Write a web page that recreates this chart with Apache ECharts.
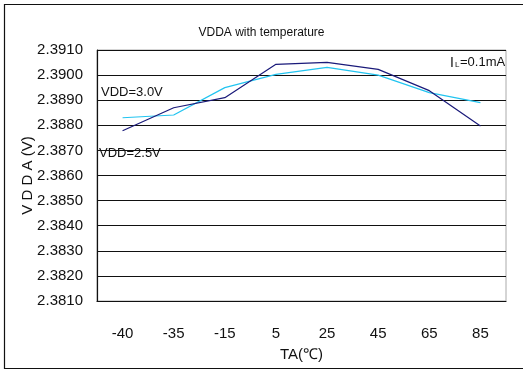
<!DOCTYPE html>
<html>
<head>
<meta charset="utf-8">
<script src="https://cdn.jsdelivr.net/npm/echarts@6/dist/echarts.min.js"></script>
<style>
  html, body { margin: 0; padding: 0; background: #fff; }
  #chart { width: 523px; height: 371px; }
</style>
</head>
<body>
<div id="chart"></div>
<script>
// Supply voltage VDDA versus ambient temperature, two supply conditions
const temperatures = ['-40', '-35', '-15', '5', '25', '45', '65', '85'];
const vdd25 = [2.38778, 2.38870, 2.38910, 2.39043, 2.39051, 2.39023, 2.38938, 2.38797];
const vdd30 = [2.38830, 2.38841, 2.38950, 2.39003, 2.39031, 2.39000, 2.38930, 2.38890];
const yTicks = ['2.3810', '2.3820', '2.3830', '2.3840', '2.3850', '2.3860', '2.3870', '2.3880', '2.3890', '2.3900', '2.3910'];

const FONT = '"Liberation Sans", Arial, sans-serif';
const chart = echarts.init(document.getElementById('chart'), null, { renderer: 'canvas' });

const yMin = Number(yTicks[0]);
const yMax = Number(yTicks[yTicks.length - 1]);

chart.setOption({
  animation: false,
  backgroundColor: '#fff',
  title: {
    text: 'VDDA with temperature',
    left: 'center',
    top: 22,
    textStyle: { fontFamily: FONT, fontSize: 12, fontWeight: 'normal', color: '#111' }
  },
  grid: { left: 97, top: 50, width: 409, height: 251, show: true, borderColor: '#aaa', borderWidth: 1 },
  xAxis: {
    type: 'category',
    data: temperatures,
    boundaryGap: true,
    name: 'TA(℃)',
    nameLocation: 'middle',
    nameGap: 46,
    nameMoveOverlap: false,
    nameTextStyle: { fontFamily: FONT, fontSize: 15, color: '#111' },
    axisLine: { lineStyle: { color: '#111', width: 1.2 } },
    axisTick: { inside: true, length: 5, lineStyle: { color: '#111' } },
    axisLabel: { fontFamily: FONT, fontSize: 15, color: '#111', margin: 25 },
    splitLine: { show: false }
  },
  yAxis: {
    type: 'value',
    min: yMin,
    max: yMax,
    interval: 0.001,
    name: 'V D D A (V)',
    nameLocation: 'middle',
    nameRotate: 90,
    nameGap: 62,
    nameMoveOverlap: false,
    nameTextStyle: { fontFamily: FONT, fontSize: 15, color: '#111' },
    axisLine: { show: true, lineStyle: { color: '#111', width: 1.2 } },
    axisTick: { show: false },
    axisLabel: {
      fontFamily: FONT, fontSize: 15, color: '#111', margin: 14,
      formatter: v => v.toFixed(4)
    },
    splitLine: { lineStyle: { color: '#111', width: 1 } }
  },
  series: [
    {
      name: 'VDD=2.5V',
      type: 'line',
      data: vdd25,
      symbol: 'none',
      lineStyle: { color: '#1a1a7a', width: 1.2 },
      z: 3
    },
    {
      name: 'VDD=3.0V',
      type: 'line',
      data: vdd30,
      symbol: 'none',
      lineStyle: { color: '#22c4f0', width: 1.2 },
      z: 2
    }
  ],
  graphic: [
    { type: 'rect', shape: { x: 4.5, y: 4.5, width: 530, height: 364 }, style: { fill: 'none', stroke: '#111', lineWidth: 1.2 }, silent: true },
    { type: 'text', x: 101, y: 86, style: { text: 'VDD=3.0V', fontFamily: FONT, fontSize: 13, fill: '#111' } },
    { type: 'text', x: 99, y: 147, style: { text: 'VDD=2.5V', fontFamily: FONT, fontSize: 13, fill: '#111' } },
    { type: 'text', x: 450, y: 56, style: { text: 'I', fontFamily: FONT, fontSize: 14, fill: '#111' } },
    { type: 'text', x: 455, y: 61, style: { text: 'L', fontFamily: FONT, fontSize: 8, fill: '#111' } },
    { type: 'text', x: 460, y: 56, style: { text: '=0.1mA', fontFamily: FONT, fontSize: 13, fill: '#111' } }
  ]
});
</script>
</body>
</html>
